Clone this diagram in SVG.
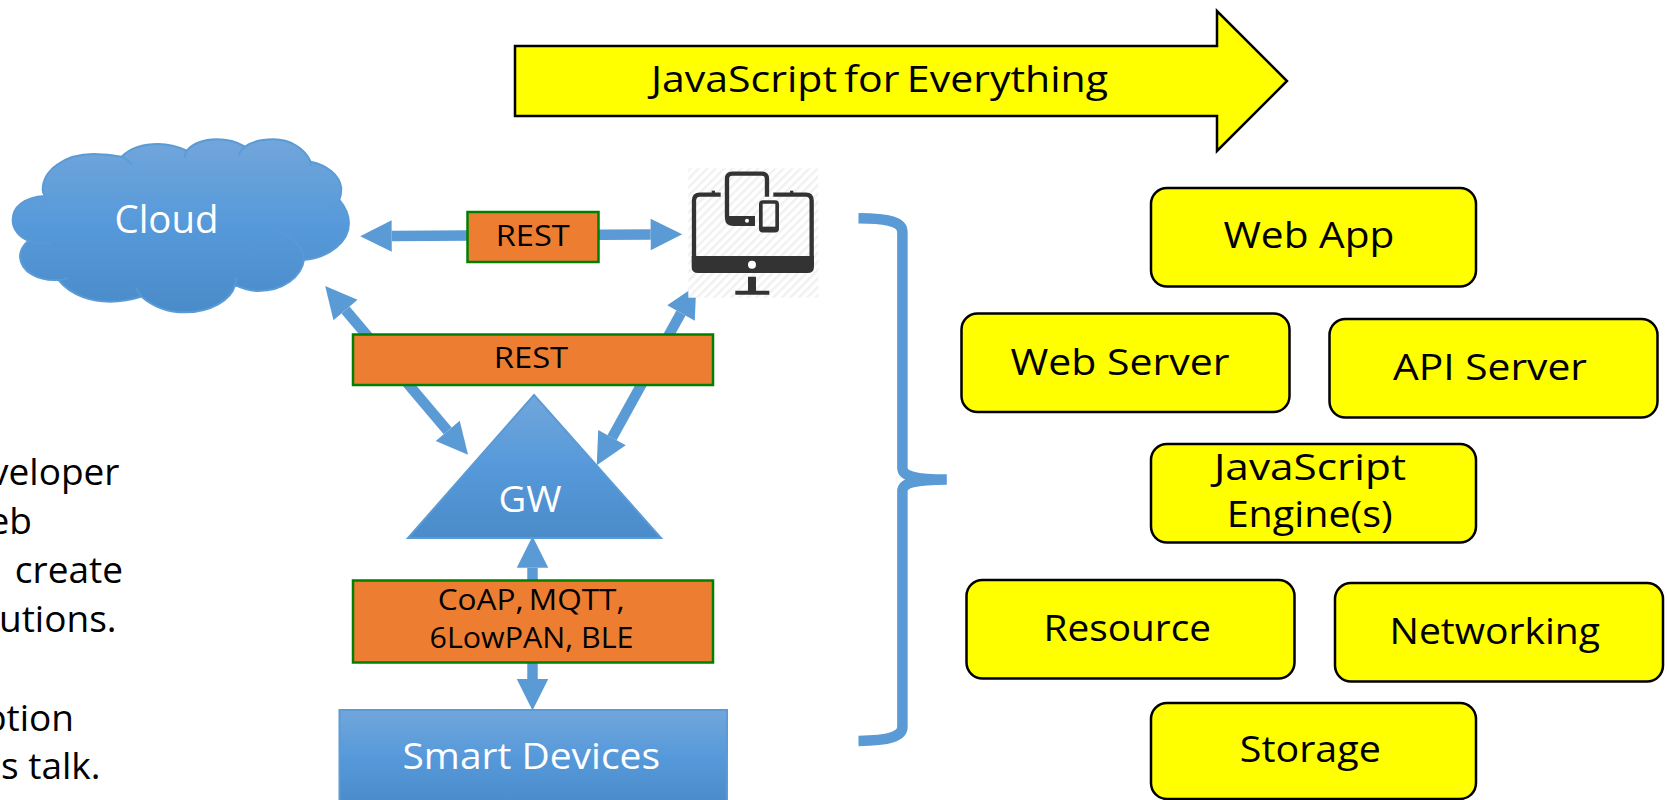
<svg xmlns="http://www.w3.org/2000/svg" width="1669" height="800" viewBox="0 0 1669 800">
<style>
text{font-family:"Open Sans","Noto Sans","DejaVu Sans",sans-serif;font-size:37px;fill:#000}
.w{fill:#fff}
.s{font-size:30px}
.m{font-size:36px}
.e{text-anchor:end}
.box{fill:#ff0;stroke:#000;stroke-width:2.5}
.org{fill:#ed7d31;stroke:#008000;stroke-width:2.5}
.blue{fill:url(#bg);stroke:#5b9bd5;stroke-width:2}
.arr{stroke:#5b9bd5;stroke-width:10.5;fill:none;marker-start:url(#h);marker-end:url(#h)}
.ic{fill:none;stroke:#333;stroke-linejoin:round}
</style>
<defs>
<linearGradient id="bg" x1="0" y1="0" x2="0" y2="1">
<stop offset="0" stop-color="#71a6db"/><stop offset=".5" stop-color="#5699da"/><stop offset="1" stop-color="#4a8bc9"/>
</linearGradient>
<marker id="h" markerUnits="strokeWidth" markerWidth="3" markerHeight="3" refX="0" refY="1.5" orient="auto-start-reverse" overflow="visible">
<path d="M0,0L3,1.5L0,3z" fill="#5b9bd5"/>
</marker>
<pattern id="hatch" width="6" height="6" patternUnits="userSpaceOnUse" patternTransform="rotate(45)">
<rect width="6" height="6" fill="#fff"/><rect width="2.5" height="6" fill="#f1f1f1"/>
</pattern>
</defs>

<g id="connectors">
<path class="arr" d="M391.7,236 L650.7,234.5"/>
<path class="arr" d="M345.5,310 L447.7,430.8"/>
<path class="arr" d="M681,313 L612,437.7"/>
<path class="arr" d="M532.5,567.7 V679"/>
<path id="brace" d="M858.5,218.3 C890,218.5 902.4,222 902.4,232 V468 C902.4,476 915,479.5 946.8,479.5 C915,479.5 902.4,483 902.4,491 V727 C902.4,736 890,740.7 858.5,740.9" fill="none" stroke="#5b9bd5" stroke-width="10.5" stroke-linejoin="bevel"/>
</g>

<g id="banner">
<path d="M515,46 H1217 V11 L1287,81 L1217,151 V116 H515 Z" fill="#ff0" stroke="#000" stroke-width="2.5"/>
<text x="651" y="92" word-spacing="-3" textLength="457" lengthAdjust="spacingAndGlyphs">JavaScript for Everything</text>
</g>

<g id="cloud">
<path transform="translate(0,120) scale(.3333)" class="blue" d="M135,228 C70,232 38,262 38,300 C38,330 60,352 85,362 C65,380 60,395 60,410 C62,455 115,484 175,480 C215,530 280,545 330,545 C365,545 400,538 425,530 C465,565 510,577 555,577 C630,577 695,540 705,495 C730,508 750,513 775,513 C850,513 905,470 912,420 C990,412 1047,365 1047,310 C1047,285 1035,260 1018,240 C1024,225 1024,215 1024,205 C1020,165 980,135 932,125 C915,85 870,58 820,58 C785,58 755,65 735,80 C710,65 685,58 650,58 C610,58 580,70 560,92 C530,78 505,72 475,72 C430,72 390,85 365,110 C340,105 310,102 280,102 C195,102 128,150 128,210 C128,216 130,222 135,228 Z" style="stroke-width:6"/>
<path transform="translate(0,120) scale(.3333)" fill="none" stroke="#5b9bd5" stroke-width="6" opacity=".85" d="M135,228 C132,235 135,240 138,245 M85,362 C105,370 130,372 152,370 M175,480 C185,480 195,478 203,473 M408,502 C412,512 418,522 425,530 M705,495 C708,488 710,480 710,472 M912,420 C912,385 880,350 832,335 M1018,240 C1008,255 995,265 980,272 M932,125 L932,138 M735,80 C725,87 720,95 716,105 M560,92 C557,98 555,105 554,114 M365,110 C378,117 388,124 397,135"/>
<text class="w" x="114.5" y="233" style="font-size:38px" textLength="104" lengthAdjust="spacingAndGlyphs">Cloud</text>
</g>

<g id="devices">
<rect x="688.3" y="168.3" width="130" height="129.4" fill="url(#hatch)"/>
<g transform="translate(620,140) scale(.3333)">
<path class="ic" stroke-width="13" d="M302,164 H240 Q222,164 222,182 V352"/>
<path class="ic" stroke-width="13" d="M460,164 H558 Q575,164 575,182 V352"/>
<rect x="275" y="152" width="10" height="8" fill="#333"/><rect x="510" y="152" width="10" height="8" fill="#333"/>
<path d="M215,348 H582 V380 Q582,399 562,399 H235 Q215,399 215,380 Z" fill="#333"/>
<circle cx="396" cy="374" r="12" fill="#fff"/>
<path d="M384,410 H408 V452 H448 V464 H346 V452 H384 Z" fill="#333"/>
<path class="ic" stroke-width="13" d="M441,170 V117 Q441,101 425,101 H337 Q321,101 321,117 V232"/>
<path d="M315,228 H405 V258 H340 Q315,258 315,235 Z" fill="#333"/>
<circle cx="381" cy="242" r="6" fill="#fff"/>
<rect x="422.5" y="186" width="49" height="86" rx="6" class="ic" stroke-width="11"/>
<rect x="421" y="260" width="52" height="13" fill="#333"/>
</g>
</g>

<g id="rest-top">
<rect class="org" x="467.5" y="212" width="131" height="50"/>
<text class="s" x="495.7" y="245.7" textLength="74" lengthAdjust="spacingAndGlyphs">REST</text>
</g>
<g id="rest-mid">
<rect class="org" x="353" y="334.5" width="360" height="50.5"/>
<text class="s" x="493.7" y="368" textLength="74.5" lengthAdjust="spacingAndGlyphs">REST</text>
</g>

<g id="gateway">
<path class="blue" d="M534,395 L661,538 H408 Z"/>
<text class="w m" x="498.5" y="511.7" textLength="63" lengthAdjust="spacingAndGlyphs">GW</text>
</g>

<g id="protocols">
<rect class="org" x="353" y="580.5" width="360" height="82"/>
<text class="s" x="437.7" y="610" word-spacing="-3" textLength="187" lengthAdjust="spacingAndGlyphs">CoAP, MQTT,</text>
<text class="s" x="429.5" y="647.7" textLength="204" lengthAdjust="spacingAndGlyphs">6LowPAN, BLE</text>
</g>

<g id="smart-devices">
<rect class="blue" x="339.5" y="710" width="387.5" height="95"/>
<text class="w m" x="402.5" y="769" textLength="257.5" lengthAdjust="spacingAndGlyphs">Smart Devices</text>
</g>

<g id="web-app"><rect class="box" x="1151" y="188" width="325" height="98.5" rx="16"/>
<text x="1223.4" y="247.7" textLength="171" lengthAdjust="spacingAndGlyphs">Web App</text></g>
<g id="web-server"><rect class="box" x="961.5" y="313.5" width="328" height="98.5" rx="16"/>
<text x="1010.5" y="374.5" textLength="219" lengthAdjust="spacingAndGlyphs">Web Server</text></g>
<g id="api-server"><rect class="box" x="1329.5" y="319" width="328" height="98.5" rx="16"/>
<text x="1393" y="379.8" textLength="194" lengthAdjust="spacingAndGlyphs">API Server</text></g>
<g id="js-engine"><rect class="box" x="1151" y="444" width="325" height="98.5" rx="16"/>
<text x="1214" y="480" textLength="192" lengthAdjust="spacingAndGlyphs">JavaScript</text>
<text x="1226.7" y="527.3" textLength="166" lengthAdjust="spacingAndGlyphs">Engine(s)</text></g>
<g id="resource"><rect class="box" x="966.5" y="580" width="328" height="98.5" rx="16"/>
<text x="1043.5" y="640.7" textLength="167.5" lengthAdjust="spacingAndGlyphs">Resource</text></g>
<g id="networking"><rect class="box" x="1335" y="583" width="328" height="98.5" rx="16"/>
<text x="1389.5" y="644" textLength="210.5" lengthAdjust="spacingAndGlyphs">Networking</text></g>
<g id="storage"><rect class="box" x="1151" y="703" width="325" height="96" rx="16"/>
<text x="1239.8" y="761.7" textLength="141" lengthAdjust="spacingAndGlyphs">Storage</text></g>

<g id="body-text">
<text class="e" x="119.5" y="485">veloper</text>
<text class="e" x="32" y="534">eb</text>
<text class="e" x="123" y="583">create</text>
<text class="e" x="116.5" y="632">utions.</text>
<text class="e" x="74" y="731">ption</text>
<text class="e" x="100.5" y="779">s talk.</text>
</g>
</svg>
